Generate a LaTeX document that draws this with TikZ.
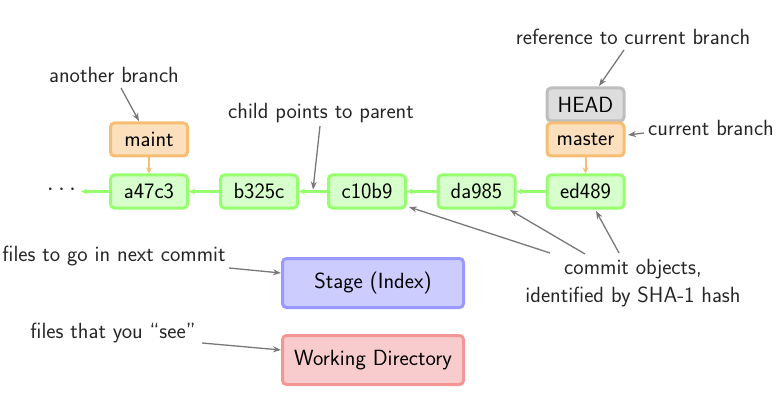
\documentclass[tikz,border=0pt]{standalone}
\usepackage{fontspec}
\usetikzlibrary{arrows.meta,calc}
\definecolor{cfill}{RGB}{214,255,204}
\definecolor{cdraw}{RGB}{150,255,110}
\definecolor{bfill}{RGB}{252,224,190}
\definecolor{bdraw}{RGB}{245,190,115}
\definecolor{hfill}{RGB}{221,221,221}
\definecolor{hdraw}{RGB}{190,190,190}
\definecolor{sfill}{RGB}{204,204,255}
\definecolor{sdraw}{RGB}{153,153,255}
\definecolor{wfill}{RGB}{248,204,204}
\definecolor{wdraw}{RGB}{245,150,150}
\definecolor{anno}{RGB}{120,120,120}
\tikzset{
  box/.style={rounded corners=4pt, line width=3pt, minimum width=77pt, minimum height=33pt, inner sep=0pt},
  commitbox/.style={box, fill=cfill, draw=cdraw},
  branchbox/.style={box, fill=bfill, draw=bdraw},
  headbox/.style={box, fill=hfill, draw=hdraw},
  areabox/.style={box, minimum width=181pt, minimum height=49pt},
  parentarrow/.style={draw=cdraw, line width=2pt, -{Stealth[length=6pt,width=6pt]}},
  brancharrow/.style={draw=bdraw, line width=2pt, -{Stealth[length=6pt,width=6pt]}},
  annoarrow/.style={draw=anno, line width=1.3pt, -{Stealth[length=8pt,width=6pt]}},
  label/.style={inner sep=0pt, text=black!85}
}
\begin{document}
\begin{tikzpicture}[x=1pt,y=-1pt, font=\sffamily\fontsize{22}{27}\selectfont]
\useasboundingbox (0,0) rectangle (781,414);
% commits
\node[commitbox] (a47c3) at (149,191.5) {a47c3};
\node[commitbox] (b325c) at (259,191.5) {b325c};
\node[commitbox] (c10b9) at (367,191.5) {c10b9};
\node[commitbox] (da985) at (476.5,191.5) {da985};
\node[commitbox] (ed489) at (585.5,191.5) {ed489};
\node[label, inner xsep=5pt] (dots) at (61.5,189.5) {\fontsize{26}{30}\selectfont$\cdots$};
% branches
\node[branchbox] (maint) at (149,139.5) {maint};
\node[headbox] (HEAD) at (585.5,104.5) {HEAD};
\node[branchbox] (master) at (585.5,139.5) {master};
% areas
\node[areabox, fill=sfill, draw=sdraw] (stage) at (373,283) {Stage (Index)};
\node[areabox, fill=wfill, draw=wdraw] (work) at (373,360) {Working Directory};
% parent arrows
\draw[parentarrow] (a47c3.west) -- (dots.east |- a47c3.west);
\draw[parentarrow] (b325c.west) -- (a47c3.east);
\draw[parentarrow] (c10b9.west) -- (b325c.east);
\draw[parentarrow] (da985.west) -- (c10b9.east);
\draw[parentarrow] (ed489.west) -- (da985.east);
\draw[brancharrow] (maint.south) -- (a47c3.north);
\draw[brancharrow] (master.south) -- (ed489.north);
% annotations
\node[label] (tanother) at (114,75) {another branch};
\coordinate (canother) at (121,88);
\draw[annoarrow] (canother) -- (139,121);
\node[label] (tchild) at (321,113) {child points to parent};
\coordinate (cchild) at (320,126);
\coordinate (pchild) at ($(b325c.east)!0.5!(c10b9.west)+(0,-2)$);
\draw[annoarrow] (cchild) -- (pchild);
\node[label] (tref) at (633,37) {reference to current branch};
\coordinate (cref) at (624,50);
\draw[annoarrow] (cref) -- (599,86);
\node[label] (tcur) at (711,128) {current branch};
\coordinate (ccur) at (644,133);
\draw[annoarrow] (ccur) -- (628,135);
\node[label, align=center] (tcommit) at (633,283) {commit objects,\\[1pt]identified by SHA-1 hash};
\coordinate (cc1) at (550,253);
\coordinate (cc2) at (585,254);
\coordinate (cc3) at (619,253);
\draw[annoarrow] (cc1) -- (409,207);
\draw[annoarrow] (cc2) -- (510,210);
\draw[annoarrow] (cc3) -- (596,211);
\node[label] (tstage) at (114,256) {files to go in next commit};
\coordinate (cstage) at (229,268);
\draw[annoarrow] (cstage) -- (stage.west |- 0,273);
\node[label] (twork) at (113,333) {files that you “see”};
\coordinate (cwork) at (202,343);
\draw[annoarrow] (cwork) -- (work.west |- 0,350);
\end{tikzpicture}
\end{document}
